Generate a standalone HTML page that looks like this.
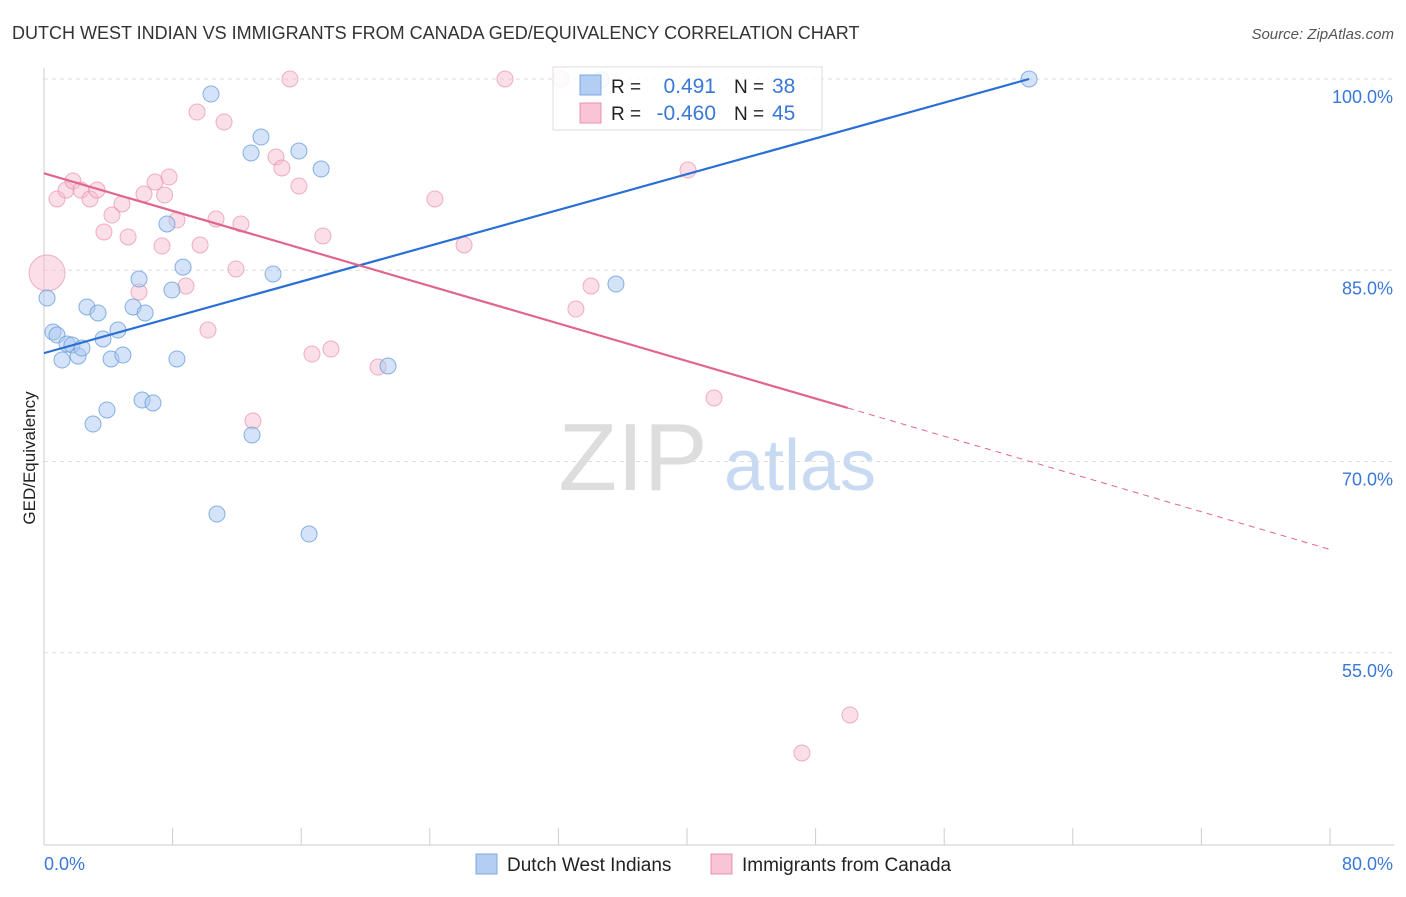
<!DOCTYPE html>
<html><head><meta charset="utf-8"><style>
body{margin:0;background:#fff;font-family:"Liberation Sans",sans-serif;}
svg text{font-family:"Liberation Sans",sans-serif;}
</style></head><body>
<svg id="chart" width="1406" height="892" xmlns="http://www.w3.org/2000/svg">
<text x="12" y="39" font-size="18" fill="#333">DUTCH WEST INDIAN VS IMMIGRANTS FROM CANADA GED/EQUIVALENCY CORRELATION CHART</text>
<text x="1394" y="39" font-size="15" fill="#555" font-style="italic" text-anchor="end">Source: ZipAtlas.com</text>
<text x="35" y="458" font-size="17" fill="#222" text-anchor="middle" transform="rotate(-90 35 458)">GED/Equivalency</text>
<g>
<text x="633" y="490" font-size="96" fill="#ddd" font-family="Liberation Serif" text-anchor="middle">ZIP</text>
<text x="800" y="490" font-size="72" fill="#c8daf2" text-anchor="middle">atlas</text>
</g>
<g id="grid"></g><g id="marks"></g>
<g>
<rect x="553" y="67" width="269" height="63" fill="#fff" fill-opacity="0.85" stroke="#ddd"/>
<rect x="580" y="75" width="21" height="20" fill="#b3cef2" stroke="#7aaae0"/>
<rect x="580" y="103" width="21" height="20" fill="#f9c5d5" stroke="#e890ae"/>
<text x="611" y="93" font-size="19" fill="#222">R =</text><text x="716" y="93" font-size="21" fill="#3a78d8" text-anchor="end">0.491</text>
<text x="734" y="93" font-size="19" fill="#222">N =</text><text x="772" y="93" font-size="21" fill="#3a78d8">38</text>
<text x="611" y="120" font-size="19" fill="#222">R =</text><text x="716" y="120" font-size="21" fill="#3a78d8" text-anchor="end">-0.460</text>
<text x="734" y="120" font-size="19" fill="#222">N =</text><text x="772" y="120" font-size="21" fill="#3a78d8">45</text>
</g>
<g>
<rect x="476" y="854" width="21" height="20" fill="#b3cef2" stroke="#7aaae0"/>
<text x="507" y="871" font-size="19" fill="#222">Dutch West Indians</text>
<rect x="711" y="854" width="21" height="20" fill="#f9c5d5" stroke="#e890ae"/>
<text x="742" y="871" font-size="19" fill="#222">Immigrants from Canada</text>
</g>
</svg>
<script>
const blueX=[0.19,0.56,0.81,1.12,1.43,1.74,2.12,2.36,2.67,3.05,3.36,3.67,3.92,4.17,4.60,4.91,5.54,5.91,6.10,6.29,6.78,7.65,7.96,8.27,8.65,10.39,10.76,12.88,12.94,13.50,14.25,15.86,16.49,17.24,21.40,34.65,35.58,61.28];
const blueY=[82.82,80.16,79.92,77.96,79.22,79.14,78.27,78.90,82.12,72.94,81.65,79.61,74.04,78.04,80.31,78.35,82.12,84.31,74.82,81.65,74.59,88.63,83.45,78.04,85.25,98.82,65.88,94.20,72.08,95.45,84.71,94.35,64.31,92.94,77.49,99.92,83.92,100];
const pinkX=[0.19,0.81,1.37,1.80,2.30,2.86,3.30,3.73,4.23,4.85,5.23,5.91,6.22,6.91,7.34,7.78,8.27,8.83,9.52,9.71,10.20,10.70,11.20,11.94,12.25,13.00,14.43,14.80,15.30,15.86,16.67,17.35,17.85,20.78,24.32,26.13,28.68,32.16,33.09,34.03,40.06,41.68,50.14,47.15,7.5];
const pinkY=[84.78,90.59,91.29,92.0,91.29,90.59,91.29,88.0,89.33,90.2,87.61,83.29,90.98,91.92,86.9,92.31,88.94,83.76,97.41,86.98,80.31,89.02,96.63,85.1,88.63,73.18,93.88,93.02,100,91.61,78.43,87.69,78.82,77.41,90.59,86.98,100,100,81.96,83.76,92.86,74.98,50.12,47.14,90.9];
const yTicks=[55,70,85,100];
const yTickLabels=["55.0%","70.0%","85.0%","100.0%"];
const blueTrend=[[0,78.5],[61.28,100]];
const pinkTrend=[[0,92.6],[50,74.2],[80,63.1]];
const sx=v=>44+v*16.075, sy=v=>79+(100-v)*12.75;
const NS="http://www.w3.org/2000/svg";
function mk(t,a,p){const e=document.createElementNS(NS,t);for(const k in a)e.setAttribute(k,a[k]);p.appendChild(e);return e;}
const grid=document.getElementById('grid'),marks=document.getElementById('marks');
yTicks.forEach((t,i)=>{
 const l=mk('line',{x1:44,x2:1394,y1:sy(t),y2:sy(t),stroke:'#ddd','stroke-dasharray':'4 4'},grid);
 
 
 const tx=mk('text',{x:1393,y:sy(t)+24,'font-size':18,fill:'#3a78d8','text-anchor':'end'},grid);tx.textContent=yTickLabels[i];
 
 
});
mk('line',{x1:44,x2:44,y1:68,y2:845,stroke:'#ccc'},grid);
mk('line',{x1:44,x2:1394,y1:845,y2:845,stroke:'#ccc'},grid);
for(let i=0;i<=10;i++){mk('line',{x1:sx(i*8),x2:sx(i*8),y1:828,y2:845,stroke:'#ccc'},grid);}
let t0=mk('text',{x:44,y:870,'font-size':18,fill:'#3a78d8'},grid);t0.textContent='0.0%';


let t1=mk('text',{x:1393,y:870,'font-size':18,fill:'#3a78d8','text-anchor':'end'},grid);t1.textContent='80.0%';


pinkX.forEach((x,i)=>{const c=mk('circle',{cx:sx(x),cy:sy(pinkY[i]),r:i===0?18:8,fill:'#f7b9cd','fill-opacity':0.45,stroke:'#e890ae','stroke-opacity':0.7},marks);
 
 });
blueX.forEach((x,i)=>{const c=mk('circle',{cx:sx(x),cy:sy(blueY[i]),r:8,fill:'#a9c8f0','fill-opacity':0.5,stroke:'#6c9fdc','stroke-opacity':0.8},marks);
 
 });
let bl=mk('line',{x1:sx(blueTrend[0][0]),y1:sy(blueTrend[0][1]),x2:sx(blueTrend[1][0]),y2:sy(blueTrend[1][1]),stroke:'#2a6fd6','stroke-width':2.2},marks);


let pl=mk('line',{x1:sx(pinkTrend[0][0]),y1:sy(pinkTrend[0][1]),x2:sx(pinkTrend[1][0]),y2:sy(pinkTrend[1][1]),stroke:'#e06690','stroke-width':2.2},marks);


let pd=mk('line',{x1:sx(pinkTrend[1][0]),y1:sy(pinkTrend[1][1]),x2:sx(pinkTrend[2][0]),y2:sy(pinkTrend[2][1]),stroke:'#e06690','stroke-width':1,'stroke-dasharray':'6 5'},marks);


</script>
</body></html>
